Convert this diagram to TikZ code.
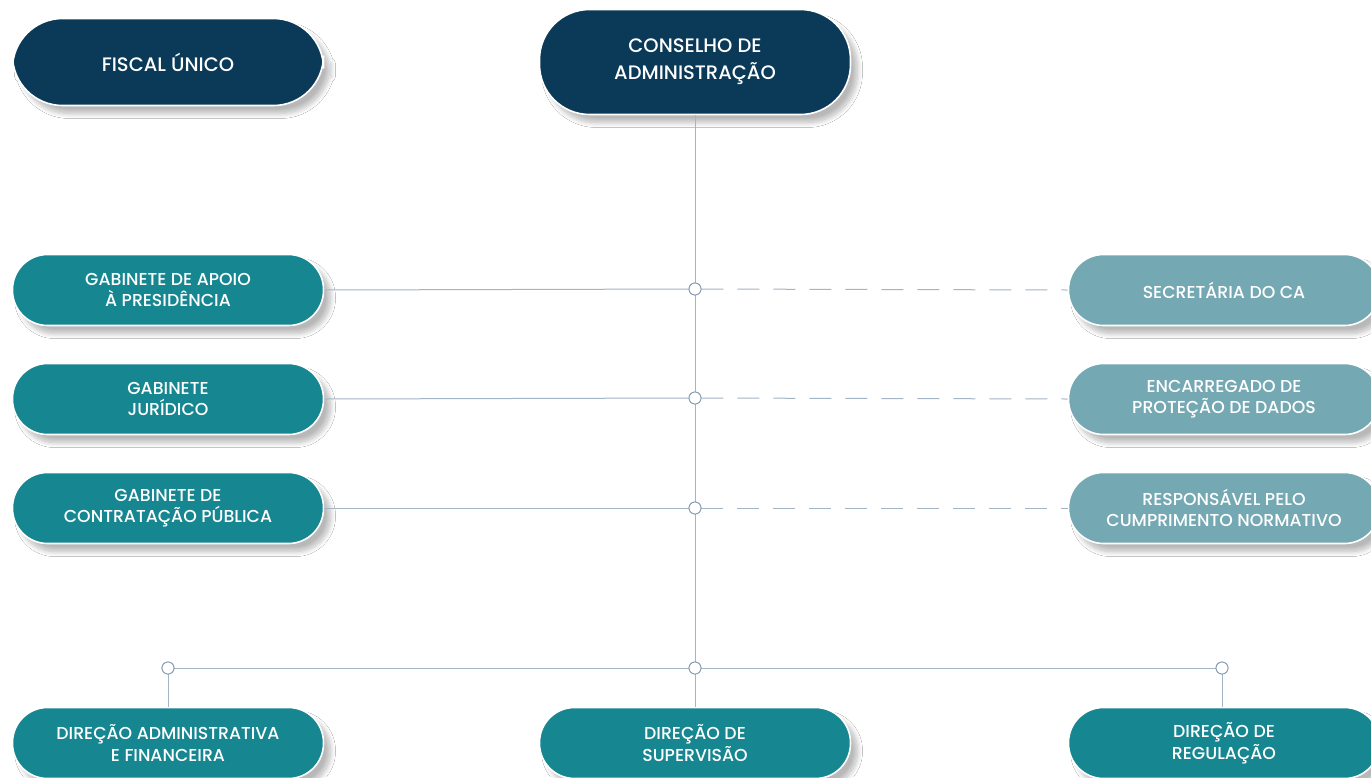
\documentclass[tikz,border=0pt]{standalone}
\usepackage{fontspec}
\setmainfont{Poppins Medium}
\usetikzlibrary{shadows.blur}
\definecolor{navy}{HTML}{0B3A59}
\definecolor{teal}{HTML}{168690}
\definecolor{lteal}{HTML}{74A8B3}
\definecolor{conn}{HTML}{A3B4C5}
\definecolor{ringc}{HTML}{7E95AD}
\tikzset{
  pill/.style={rounded corners=#1, draw=white, line width=1.6pt, text=white, align=center,
     blur shadow={shadow xshift=7pt, shadow yshift=-8pt, shadow blur steps=10, shadow blur radius=5pt, shadow opacity=28}},
  topbox/.style={pill=50pt, fill=navy, minimum width=311pt, font=\fontsize{19.5}{27}\selectfont},
  midbox/.style={pill=35pt, fill=teal, minimum width=311pt, minimum height=71pt, font=\fontsize{17.3}{21.5}\selectfont},
  rbox/.style={pill=35pt, fill=lteal, minimum width=311pt, minimum height=71pt, font=\fontsize{17.3}{21.5}\selectfont},
  junc/.style={circle, draw=ringc, fill=white, line width=0.8pt, minimum size=12pt, inner sep=0pt},
  link/.style={draw=conn, line width=1pt},
  dlink/.style={draw=conn, line width=1pt, dash pattern=on 22pt off 14pt},
}
\begin{document}
\begin{tikzpicture}[x=1pt,y=-1pt]
\useasboundingbox (0,0) rectangle (1371,777);
\fill[white] (0,0) rectangle (1371,777);
% junctions
\node[junc] (j1) at (695,289) {};
\node[junc] (j2) at (695,398) {};
\node[junc] (j3) at (695,508) {};
\node[junc] (jl) at (168,668) {};
\node[junc] (jm) at (695,668) {};
\node[junc] (jr) at (1222,668) {};
% boxes
\node[topbox, minimum height=87pt] (fis) at (168,62) {FISCAL ÚNICO};
\node[topbox, minimum height=105pt] (cons) at (695,62) {CONSELHO DE\\ADMINISTRAÇÃO};
\node[midbox] (g1) at (168,290) {GABINETE DE APOIO\\À PRESIDÊNCIA};
\node[midbox] (g2) at (168,399) {GABINETE\\JURÍDICO};
\node[midbox] (g3) at (168,508) {GABINETE DE\\CONTRATAÇÃO PÚBLICA};
\node[rbox] (r1) at (1224,290) {SECRETÁRIA DO CA};
\node[rbox] (r2) at (1224,399) {ENCARREGADO DE\\PROTEÇÃO DE DADOS};
\node[rbox] (r3) at (1224,508) {RESPONSÁVEL PELO\\CUMPRIMENTO NORMATIVO};
\node[midbox] (d1) at (168,743) {DIREÇÃO ADMINISTRATIVA\\E FINANCEIRA};
\node[midbox] (d2) at (695,743) {DIREÇÃO DE\\SUPERVISÃO};
\node[midbox] (d3) at (1224,743) {DIREÇÃO DE\\REGULAÇÃO};
% connectors
\path[link] (cons.south) -- (j1) -- (j2) -- (j3) -- (jm) -- (d2.north);
\path[link] (g1.east) -- (j1);
\path[link] (g2.east) -- (j2);
\path[link] (g3.east) -- (j3);
\path[dlink] (j1) -- (r1.west);
\path[dlink] (j2) -- (r2.west);
\path[dlink] (j3) -- (r3.west);
\path[link] (jl) -- (jm) -- (jr);
\path[link] (jl) -- (jl |- d1.north);
\path[link] (jr) -- (jr |- d3.north);
% redraw junctions on top
\node[junc] at (j1) {};
\node[junc] at (j2) {};
\node[junc] at (j3) {};
\node[junc] at (jl) {};
\node[junc] at (jm) {};
\node[junc] at (jr) {};
\end{tikzpicture}
\end{document}
